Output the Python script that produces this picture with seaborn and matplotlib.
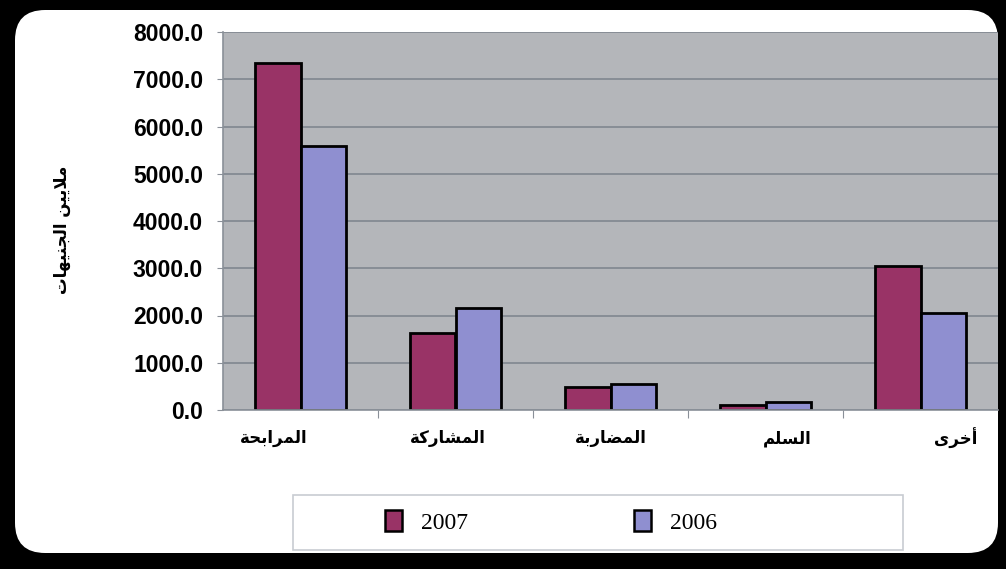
import pandas as pd
import seaborn as sns
import matplotlib.pyplot as plt
from matplotlib.patches import FancyBboxPatch, Rectangle, Patch
import matplotlib.transforms as mtransforms

# data
categories = ['المرابحة', 'المشاركة', 'المضاربة', 'السلم', 'أخرى']
values_2007 = [7340, 1630, 490, 105, 3050]
values_2006 = [5590, 2160, 550, 165, 2055]
years = ['2007', '2006']
ylabel = 'ملايين الجنيهات'

# tiny arabic shaper (matplotlib draws glyphs left to right without joining)
FORMS = {
    'ا': ('\uFE8D', '\uFE8E', None, None), 'أ': ('\uFE83', '\uFE84', None, None),
    'ر': ('\uFEAD', '\uFEAE', None, None), 'ة': ('\uFE93', '\uFE94', None, None),
    'ى': ('\uFEEF', '\uFEF0', None, None),
    'ل': ('\uFEDD', '\uFEDE', '\uFEDF', '\uFEE0'), 'م': ('\uFEE1', '\uFEE2', '\uFEE3', '\uFEE4'),
    'ب': ('\uFE8F', '\uFE90', '\uFE91', '\uFE92'), 'ح': ('\uFEA1', '\uFEA2', '\uFEA3', '\uFEA4'),
    'ش': ('\uFEB5', '\uFEB6', '\uFEB7', '\uFEB8'), 'ك': ('\uFED9', '\uFEDA', '\uFEDB', '\uFEDC'),
    'ض': ('\uFEBD', '\uFEBE', '\uFEBF', '\uFEC0'), 'س': ('\uFEB1', '\uFEB2', '\uFEB3', '\uFEB4'),
    'خ': ('\uFEA5', '\uFEA6', '\uFEA7', '\uFEA8'), 'ي': ('\uFEF1', '\uFEF2', '\uFEF3', '\uFEF4'),
    'ن': ('\uFEE5', '\uFEE6', '\uFEE7', '\uFEE8'), 'ج': ('\uFE9D', '\uFE9E', '\uFE9F', '\uFEA0'),
    'ه': ('\uFEE9', '\uFEEA', '\uFEEB', '\uFEEC'), 'ت': ('\uFE95', '\uFE96', '\uFE97', '\uFE98'),
}


def joins_next(c):
    return c in FORMS and FORMS[c][2] is not None


def shape(word):
    chars = list(word)
    out = []
    i = 0
    while i < len(chars):
        c = chars[i]
        if c not in FORMS:
            out.append(c)
            i += 1
            continue
        prev_joins = i > 0 and joins_next(chars[i - 1])
        # lam-alef ligature
        if c == 'ل' and i + 1 < len(chars) and chars[i + 1] == 'ا':
            out.append('\uFEFC' if prev_joins else '\uFEFB')
            i += 2
            continue
        nxt = chars[i + 1] if i + 1 < len(chars) else None
        next_joins = joins_next(c) and nxt in FORMS
        iso, fin, ini, med = FORMS[c]
        if prev_joins and next_joins:
            out.append(med)
        elif prev_joins:
            out.append(fin)
        elif next_joins:
            out.append(ini)
        else:
            out.append(iso)
        i += 1
    return ''.join(out)


def rtl(text):
    return ' '.join(shape(w)[::-1] for w in text.split(' ')[::-1])


df = pd.DataFrame({
    'cat': categories * 2,
    'value': values_2007 + values_2006,
    'year': [years[0]] * 5 + [years[1]] * 5,
})
colors = ['#993366', '#8f8fd0']

fig = plt.figure(figsize=(10.06, 5.69), dpi=100, facecolor='black')
bg = FancyBboxPatch((15 / 1006, 16 / 569), 983 / 1006, 543 / 569,
                    boxstyle='round,pad=0,rounding_size=0.03',
                    transform=fig.transFigure, facecolor='white',
                    edgecolor='none', mutation_aspect=1006 / 569, zorder=-10)
fig.patches.append(bg)
ax = fig.add_axes([223 / 1006, 1 - 410 / 569, 775 / 1006, 378 / 569])
ax.set_facecolor('#b4b6ba')

sns.barplot(data=df, x='cat', y='value', hue='year', hue_order=years,
            palette=colors, width=0.59, edgecolor='black', linewidth=2,
            saturation=1, ax=ax, legend=False)

ax.set_ylim(0, 8000)
ax.set_xlim(-0.5, 4.5)
ax.set_yticks(range(0, 8001, 1000))
ax.set_yticklabels([f'{v:.1f}' for v in range(0, 8001, 1000)],
                   fontfamily='Liberation Sans', fontweight='bold', fontsize=16.5)
ax.yaxis.grid(True, color='#878d96', linewidth=1.4)
ax.set_axisbelow(True)
for s in ['top', 'right']:
    ax.spines[s].set_visible(False)
for s in ['left', 'bottom']:
    ax.spines[s].set_color('#8a9098')
    ax.spines[s].set_linewidth(1.2)
ax.tick_params(axis='y', length=4.3, color='#8a9098', pad=10)

# category labels, placed a bit off-centre like the original
ax.set_xticks([i + 0.5 for i in range(4)])
ax.set_xticklabels([])
ax.tick_params(axis='x', length=6, color='#8a9098')
offsets = [-0.17, -0.05, 0.0, 0.14, 0.23]
trans = mtransforms.blended_transform_factory(ax.transData, ax.transAxes)
for i, (c, off) in enumerate(zip(categories, offsets)):
    ax.text(i + off, -0.075, rtl(c), transform=trans, ha='center', va='center',
            fontfamily='DejaVu Sans', fontweight='bold', fontsize=12)

ax.set_xlabel('')
ax.set_ylabel('')
fig.text(62 / 1006, 1 - 230 / 569, rtl(ylabel), rotation=90, ha='center', va='center',
         fontfamily='DejaVu Sans', fontweight='bold', fontsize=12)

# legend with its own wide frame
fig.patches.append(Rectangle((293 / 1006, 1 - 550 / 569), 610 / 1006, 55 / 569,
                             transform=fig.transFigure, facecolor='white',
                             edgecolor='#c8ccd2', linewidth=1.2))
handles = [Patch(facecolor=colors[0], edgecolor='black', linewidth=1.8),
           Patch(facecolor=colors[1], edgecolor='black', linewidth=1.8)]
fig.legend(handles, years, loc='center', bbox_to_anchor=(551 / 1006, 1 - 522 / 569),
           ncol=2, frameon=False, handlelength=0.7, handleheight=1.0,
           handletextpad=0.8, columnspacing=7.05,
           prop={'family': 'Liberation Serif', 'size': 17})

fig.savefig('out.png', dpi=100, facecolor='black')
